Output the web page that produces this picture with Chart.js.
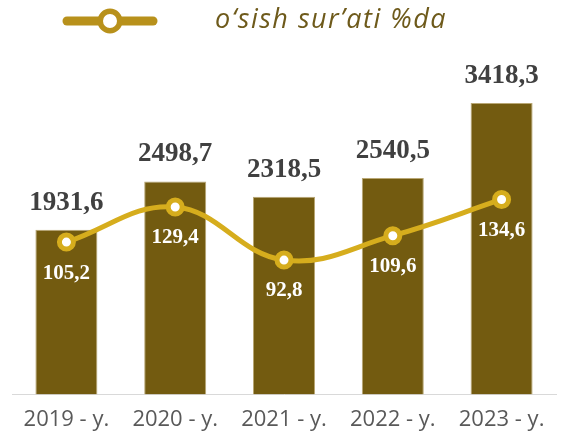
<!DOCTYPE html>
<html>
<head>
<meta charset="utf-8">
<script src="https://cdn.jsdelivr.net/npm/chart.js@4"></script>
<style>
  body { margin: 0; background: #fff; }
  canvas { display: block; }
</style>
</head>
<body>
<canvas id="grafik" width="568" height="433"></canvas>
<script>
// Ma'lumotlar
const categories = ['2019 - y.', '2020 - y.', '2021 - y.', '2022 - y.', '2023 - y.'];
const volumeValues = [1931.6, 2498.7, 2318.5, 2540.5, 3418.3];
const growthRates = [105.2, 129.4, 92.8, 109.6, 134.6];
const growthLabel = 'o‘sish sur’ati %da';

const barColor = '#735B10';
const lineColor = '#D6AD1D';

function fmt(v) {
    return v.toFixed(1).replace('.', ',');
}

// Qiymat yozuvlari
const valueLabels = {
    id: 'valueLabels',
    afterDatasetsDraw(chart) {
        const ctx = chart.ctx;
        ctx.save();
        ctx.textAlign = 'center';
        ctx.textBaseline = 'middle';

        const bars = chart.getDatasetMeta(1).data;
        ctx.fillStyle = '#404040';
        ctx.font = 'bold 27px "Liberation Serif"';
        bars.forEach((el, i) => {
            ctx.fillText(fmt(volumeValues[i]), el.x, el.y - 27);
        });

        const pts = chart.getDatasetMeta(0).data;
        ctx.fillStyle = '#ffffff';
        ctx.font = 'bold 21px "Liberation Serif"';
        pts.forEach((el, i) => {
            ctx.fillText(fmt(growthRates[i]), el.x, el.y + 31);
        });
        ctx.restore();
    }
};

// Legenda (chiziq + doira)
const customLegend = {
    id: 'customLegend',
    afterDraw(chart) {
        const ctx = chart.ctx;
        ctx.save();
        ctx.strokeStyle = '#B8911B';
        ctx.lineWidth = 9;
        ctx.lineCap = 'round';
        ctx.beginPath();
        ctx.moveTo(67, 21);
        ctx.lineTo(153, 21);
        ctx.stroke();
        ctx.beginPath();
        ctx.arc(110, 21, 9.75, 0, Math.PI * 2);
        ctx.fillStyle = '#ffffff';
        ctx.fill();
        ctx.lineWidth = 5.5;
        ctx.stroke();

        ctx.fillStyle = '#6E5A1B';
        ctx.font = 'italic 27px "Open Sans"';
        ctx.letterSpacing = '1.5px';
        ctx.textBaseline = 'middle';
        ctx.fillText(growthLabel, 215, 20);
        ctx.restore();
    }
};

new Chart(document.getElementById('grafik'), {
    data: {
        labels: categories,
        datasets: [
            {
                type: 'line',
                label: growthLabel,
                data: growthRates,
                yAxisID: 'y2',
                borderColor: lineColor,
                borderWidth: 5,
                tension: 0.4,
                pointRadius: 7,
                pointBackgroundColor: '#ffffff',
                pointBorderColor: lineColor,
                pointBorderWidth: 5,
                order: 0
            },
            {
                type: 'bar',
                label: 'hajm',
                data: volumeValues,
                yAxisID: 'y',
                backgroundColor: barColor,
                borderColor: '#B9A774',
                borderWidth: 1,
                categoryPercentage: 1,
                barPercentage: 0.57,
                order: 1
            }
        ]
    },
    options: {
        responsive: false,
        animation: false,
        // pastki padding manfiy: o'q yozuvlari tagida joy qolmasin
        layout: { padding: { top: 50, left: 12, right: 2, bottom: -12 } },
        plugins: {
            legend: { display: false },
            tooltip: { enabled: false }
        },
        scales: {
            x: {
                grid: { display: false, drawTicks: false },
                border: { color: '#D9D9D9', width: 1 },
                ticks: {
                    color: '#595959',
                    padding: 12,
                    font: { family: 'Open Sans', size: 22 }
                }
            },
            y: { display: false, min: 0, max: 4040 },
            y2: { display: false, min: 0, max: 237.7 }
        }
    },
    plugins: [valueLabels, customLegend]
});
</script>
</body>
</html>
